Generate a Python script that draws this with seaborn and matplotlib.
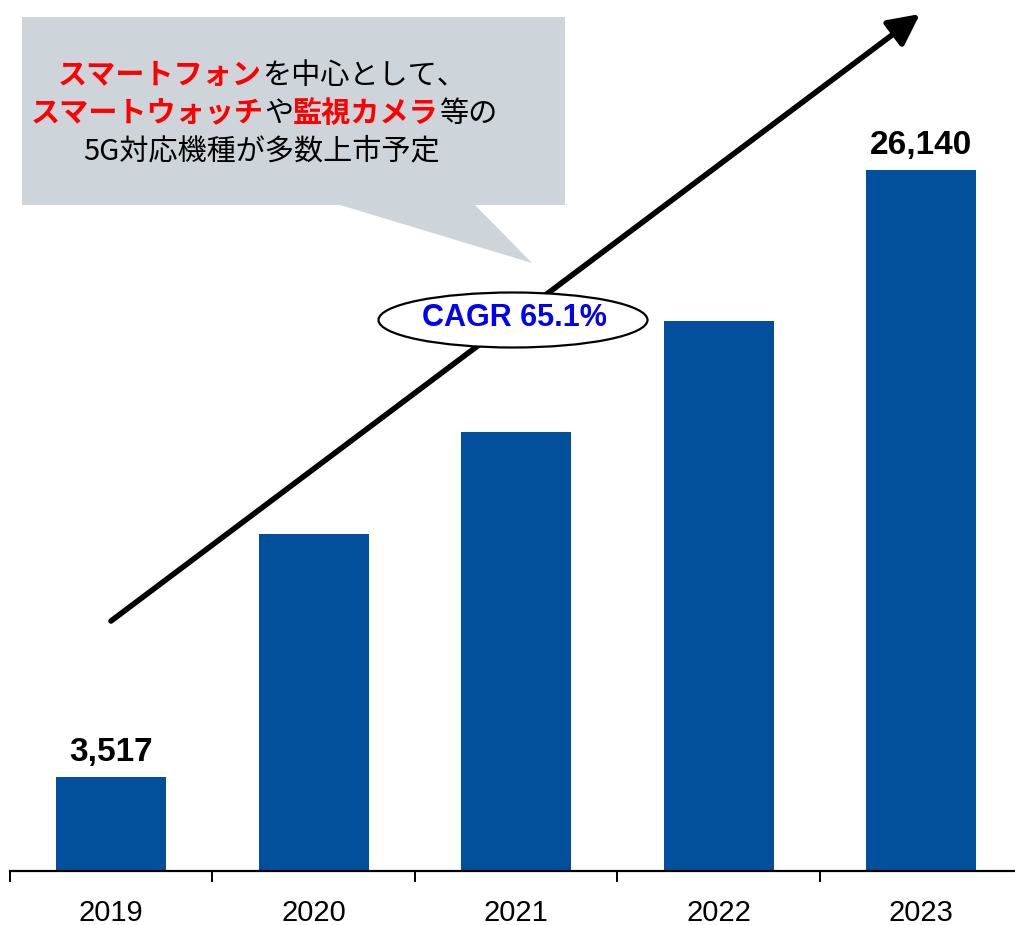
import matplotlib
matplotlib.use('Agg')
import matplotlib.pyplot as plt
import seaborn as sns
import pandas as pd
from matplotlib.patches import Polygon, Ellipse, FancyArrowPatch
from matplotlib.transforms import IdentityTransform
from matplotlib import font_manager as fm

# ---- data ----
years = ['2019', '2020', '2021', '2022', '2023']
shipments = [3517, 12570, 16375, 20515, 26140]
value_labels = ['3,517', '', '', '', '26,140']
cagr_text = 'CAGR 65.1%'
callout_line1 = [('スマートフォン', 'red', 'bold'), ('を中心として、', 'black', 'normal')]
callout_line2 = [('スマートウォッチ', 'red', 'bold'), ('や', 'black', 'normal'),
                 ('監視カメラ', 'red', 'bold'), ('等の', 'black', 'normal')]
callout_line3 = [('5G対応機種が多数上市予定', 'black', 'normal')]

W, H = 1015, 925
sns.set_theme(style='white')
names = {f.name for f in fm.fontManager.ttflist}
narrow = 'Liberation Sans Narrow' if 'Liberation Sans Narrow' in names else 'Liberation Sans'
cjk = ['Noto Sans CJK JP', 'DejaVu Sans']
plt.rcParams['font.family'] = cjk

fig = plt.figure(figsize=(W / 100, H / 100), dpi=100)
ax = fig.add_axes([10 / W, (H - 871) / H, 1005 / W, 871 / H])
df = pd.DataFrame({'year': years, 'value': shipments})
sns.barplot(data=df, x='year', y='value', color='#02509B', saturation=1,
            width=0.545, linewidth=0, ax=ax, zorder=2)

ax.set_xlim(-0.5, 4.463)
ax.set_ylim(0, 32480)
for s in ['left', 'top', 'right']:
    ax.spines[s].set_visible(False)
ax.spines['bottom'].set_color('black')
ax.spines['bottom'].set_linewidth(1.6)
ax.set_xlabel('')
ax.set_ylabel('')
ax.set_yticks([])
ax.set_xticks(range(len(years)))
ax.set_xticklabels(years, fontsize=21, family=narrow, color='black')
ax.set_xticks([i - 0.5 for i in range(len(years))], minor=True)
ax.tick_params(axis='x', which='major', length=0, pad=20)
ax.tick_params(axis='x', which='minor', length=8, width=1.4, color='black',
               direction='out', bottom=True)
ax.grid(False)

for i, (v, lab) in enumerate(zip(shipments, value_labels)):
    if lab:
        ax.annotate(lab, xy=(i, v), xytext=(0, 11.5), textcoords='offset points',
                    ha='center', va='baseline', fontsize=24, fontweight='bold',
                    family='Liberation Sans', color='black')

def px(x, y):
    return (x / W, 1 - y / H)

# arrow
arrow = FancyArrowPatch(px(111, 621), px(920, 14), transform=fig.transFigure,
                        arrowstyle='-|>,head_length=0.9,head_width=0.45',
                        mutation_scale=21, lw=4, color='black',
                        shrinkA=0, shrinkB=0, zorder=3)
fig.patches.append(arrow)

# CAGR ellipse
ell = Ellipse(px(513, 320), 269 / W, 55 / H, transform=fig.transFigure,
              facecolor='white', edgecolor='black', lw=1.6, zorder=4)
fig.patches.append(ell)
fig.text(*px(514, 318), cagr_text, ha='center', va='center', fontsize=22,
         fontweight='bold', family='Liberation Sans', color='#0000F5', zorder=5)

# callout
poly = Polygon([px(22, 17), px(565, 17), px(565, 205), px(475, 205),
                px(532, 263), px(340, 205), px(22, 205)],
               closed=True, transform=fig.transFigure, facecolor='#CDD5DA',
               edgecolor='none', zorder=1)
fig.patches.append(poly)

renderer = fig.canvas.get_renderer()

def draw_line(segments, cx, base_y):
    texts = []
    x = 0.0
    for s, c, w in segments:
        t = fig.text(x, H - base_y, s, color=c, fontweight=w, fontsize=21,
                     family=cjk, va='baseline', ha='left',
                     transform=IdentityTransform(), zorder=6)
        wdt = t.get_window_extent(renderer).width
        texts.append((t, x))
        x += wdt
    start = cx - x / 2
    for t, off in texts:
        t.set_x(start + off)

draw_line(callout_line1, 262, 84)
draw_line(callout_line2, 264, 122)
draw_line(callout_line3, 262, 159)

fig.savefig('out.png', dpi=100)
